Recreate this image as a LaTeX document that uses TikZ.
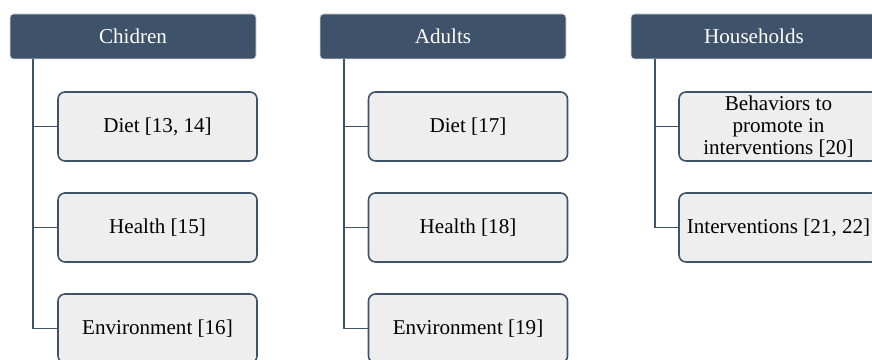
\documentclass[tikz,border=0pt]{standalone}
\usepackage{fontspec}
\setmainfont{Liberation Serif}
\usepackage{xcolor}
\usetikzlibrary{positioning}
\definecolor{slate}{HTML}{3E5269}
\definecolor{boxgray}{HTML}{EEEEEE}
\definecolor{rimgray}{HTML}{DDDDDD}

\begin{document}
\begin{tikzpicture}[
        node distance=6.2cm,
        head/.style={draw=rimgray, fill=slate, text=white, rounded corners=2pt, minimum width=4.92cm, minimum height=0.9cm, font=\fontsize{12}{14}\selectfont},
        item/.style={draw=slate, fill=boxgray, line width=0.9pt, rounded corners=4pt, align=center, minimum width=3.98cm, minimum height=1.38cm, inner sep=1pt, font=\fontsize{12}{12.5}\selectfont},
        link/.style={draw=slate, line width=1.1pt}
    ]
        \useasboundingbox (0,0) rectangle (17.44,-7.2);

        \node[head] (child) at (2.66,-0.73) {Chidren};
        \node[head, right of=child] (adult) {Adults};
        \node[head, right of=adult, xshift=0.02cm] (house) {Households};

        \node[item, below of=child, node distance=1.8cm, xshift=0.49cm] (cdiet) {Diet [13, 14]};
        \node[item, below of=cdiet, node distance=2.02cm] (chealth) {Health [15]};
        \node[item, below of=chealth, node distance=2.02cm] (cenv) {Environment [16]};

        \node[item, below of=adult, node distance=1.8cm, xshift=0.5cm] (adiet) {Diet [17]};
        \node[item, below of=adiet, node distance=2.02cm] (ahealth) {Health [18]};
        \node[item, below of=ahealth, node distance=2.02cm] (aenv) {Environment [19]};

        \node[item, below of=house, node distance=1.8cm, xshift=0.49cm] (hbeh) {Behaviors to\\promote in\\interventions [20]};
        \node[item, below of=hbeh, node distance=2.02cm] (hint) {Interventions [21, 22]};

        \draw[link] ([xshift=0.46cm]child.south west) |- (cdiet.west);
        \draw[link] ([xshift=0.46cm]child.south west) |- (chealth.west);
        \draw[link] ([xshift=0.46cm]child.south west) |- (cenv.west);
        \draw[link] ([xshift=0.48cm]adult.south west) |- (adiet.west);
        \draw[link] ([xshift=0.48cm]adult.south west) |- (ahealth.west);
        \draw[link] ([xshift=0.48cm]adult.south west) |- (aenv.west);
        \draw[link] ([xshift=0.48cm]house.south west) |- (hbeh.west);
        \draw[link] ([xshift=0.48cm]house.south west) |- (hint.west);
    \end{tikzpicture}
\end{document}
